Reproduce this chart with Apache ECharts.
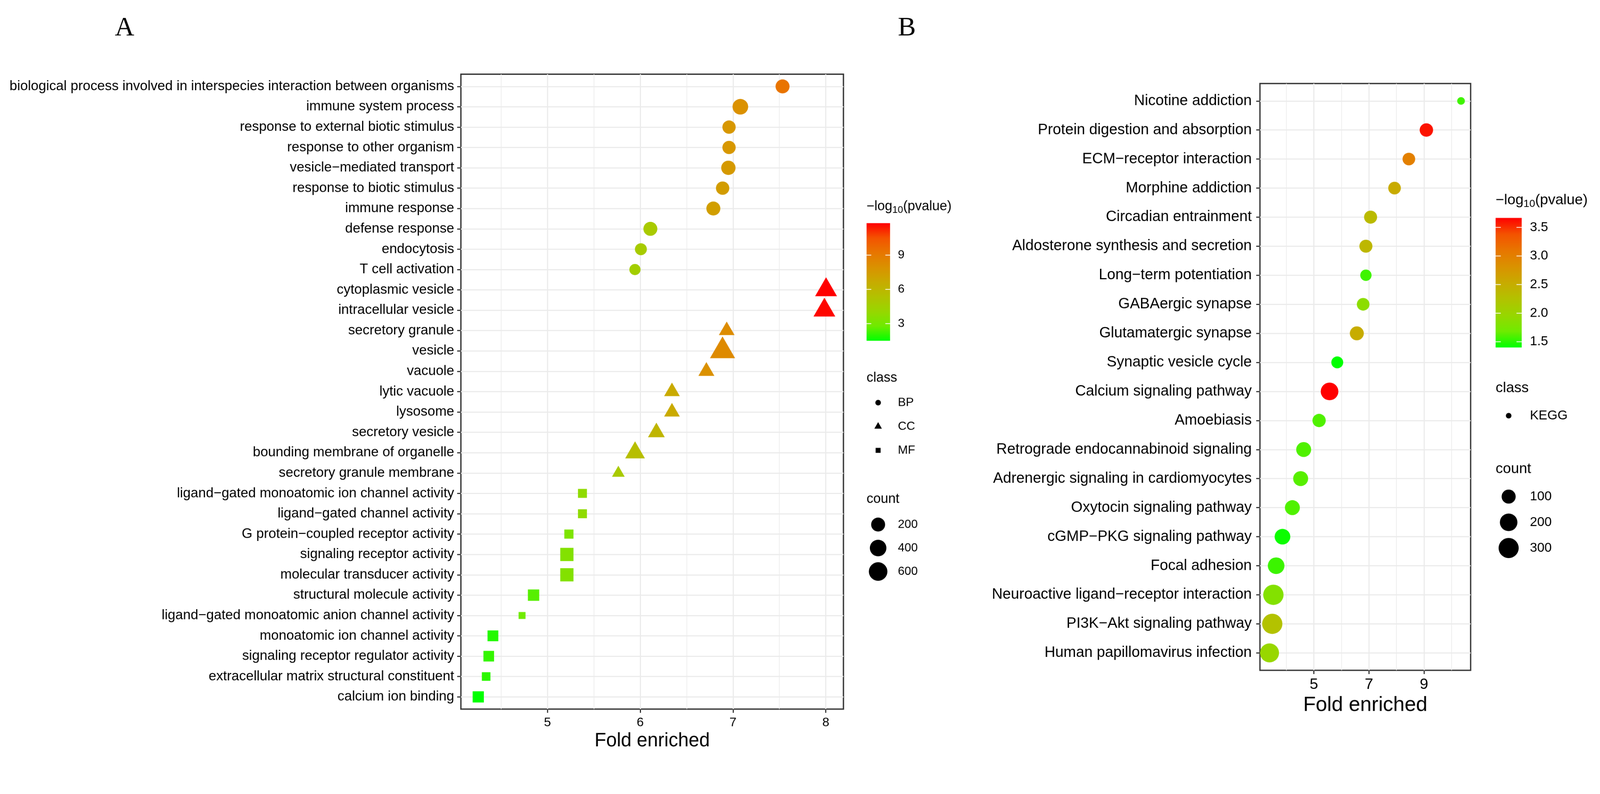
<!DOCTYPE html>
<html lang="en">
<head>
<meta charset="UTF-8">
<title>GO / KEGG enrichment</title>
<style>
  html, body { margin: 0; padding: 0; background: #fff; overflow: hidden; }
  #main { width: 4291px; height: 2033px; transform-origin: 0 0; }
</style>
</head>
<body>
<div id="main"></div>
<script src="https://cdn.jsdelivr.net/npm/echarts@6/dist/echarts.min.js"></script>
<script>
// ---------- panel A : GO terms ----------
var termsA = [
  'biological process involved in interspecies interaction between organisms',
  'immune system process', 'response to external biotic stimulus', 'response to other organism',
  'vesicle\u2212mediated transport', 'response to biotic stimulus', 'immune response',
  'defense response', 'endocytosis', 'T cell activation',
  'cytoplasmic vesicle', 'intracellular vesicle', 'secretory granule', 'vesicle', 'vacuole',
  'lytic vacuole', 'lysosome', 'secretory vesicle', 'bounding membrane of organelle',
  'secretory granule membrane',
  'ligand\u2212gated monoatomic ion channel activity', 'ligand\u2212gated channel activity',
  'G protein\u2212coupled receptor activity', 'signaling receptor activity',
  'molecular transducer activity', 'structural molecule activity',
  'ligand\u2212gated monoatomic anion channel activity', 'monoatomic ion channel activity',
  'signaling receptor regulator activity', 'extracellular matrix structural constituent',
  'calcium ion binding'
];
var classA = ['BP','BP','BP','BP','BP','BP','BP','BP','BP','BP',
              'CC','CC','CC','CC','CC','CC','CC','CC','CC','CC',
              'MF','MF','MF','MF','MF','MF','MF','MF','MF','MF','MF'];
var foldA  = [7.534, 7.079, 6.957, 6.957, 6.95, 6.888, 6.788, 6.109, 6.007, 5.943,
              8.003, 7.985, 6.932, 6.887, 6.713, 6.342, 6.342, 6.174, 5.944, 5.764,
              5.377, 5.377, 5.231, 5.209, 5.209, 4.85, 4.726, 4.412, 4.367, 4.339, 4.254];
var countA = [201, 322, 160, 160, 223, 165, 201, 201, 92, 63,
              372, 365, 80, 610, 90, 80, 80, 116, 246, 18,
              32, 32, 37, 267, 267, 134, 5, 103, 95, 23, 125];
var pvalA  = [9.3, 8.0, 7.7, 7.7, 7.6, 7.4, 7.3, 4.9, 4.8, 4.6,
              11.8, 11.7, 8.2, 8.3, 8.0, 6.7, 6.7, 6.1, 5.6, 4.9,
              3.8, 3.8, 3.25, 3.4, 3.4, 2.5, 2.8, 1.9, 2.1, 2.0, 1.5];

// ---------- panel B : KEGG pathways ----------
var termsB = [
  'Nicotine addiction', 'Protein digestion and absorption', 'ECM\u2212receptor interaction',
  'Morphine addiction', 'Circadian entrainment', 'Aldosterone synthesis and secretion',
  'Long\u2212term potentiation', 'GABAergic synapse', 'Glutamatergic synapse',
  'Synaptic vesicle cycle', 'Calcium signaling pathway', 'Amoebiasis',
  'Retrograde endocannabinoid signaling', 'Adrenergic signaling in cardiomyocytes',
  'Oxytocin signaling pathway', 'cGMP\u2212PKG signaling pathway', 'Focal adhesion',
  'Neuroactive ligand\u2212receptor interaction', 'PI3K\u2212Akt signaling pathway',
  'Human papillomavirus infection'
];
var foldB  = [10.345, 9.086, 8.45, 7.93, 7.06, 6.89, 6.89, 6.79, 6.56, 5.85,
              5.57, 5.19, 4.63, 4.52, 4.22, 3.86, 3.63, 3.53, 3.49, 3.39];
var countB = [29, 87, 72, 72, 79, 79, 52, 72, 98, 60,
              203, 84, 121, 121, 121, 141, 170, 310, 305, 255];
var pvalB  = [1.56, 3.60, 3.0, 2.53, 2.35, 2.38, 1.56, 1.88, 2.52, 1.40,
              3.665, 1.60, 1.60, 1.62, 1.60, 1.43, 1.55, 1.82, 2.25, 1.97];

// tick labels / legend breaks
var ticksA = [5, 6, 7, 8];
var minorA = [4.5, 5.5, 6.5, 7.5];
var ticksB = [5, 7, 9];
var minorB = [4, 6, 8, 10];
var barTicksA = [3, 6, 9];
var barTicksB = [1.5, 2.0, 2.5, 3.0, 3.5];
var countBreaksA = [200, 400, 600];
var countBreaksB = [100, 200, 300];

// green -> red ramp (sampled in Lab, like ggplot's gradient)
var ramp = ['#00FF00', '#70EB00', '#98D700', '#B3C200', '#C8AB00', '#DA9200', '#E87600', '#F45300', '#FF0000'];

var FONT = 'Liberation Sans, Arial, sans-serif';
var INK = '#000';

function ext(arr) { return [Math.min.apply(null, arr), Math.max.apply(null, arr)]; }
function expand(arr) { var e = ext(arr), d = (e[1] - e[0]) * 0.05; return [e[0] - d, e[1] + d]; }
function sizer(counts, dMin, dMax) {
  var e = ext(counts);
  return function (c) {
    var t = Math.max(0, (c - e[0]) / (e[1] - e[0]));
    return dMin + (dMax - dMin) * Math.sqrt(t);
  };
}
var sizeA = sizer(countA, 21, 50);
var sizeB = sizer(countB, 20.7, 54.5);

var idxA = termsA.map(function (t, i) { return i; });
var idxB = termsB.map(function (t, i) { return i; });
var xrA = expand(foldA), xrB = expand(foldB);
var prA = ext(pvalA), prB = ext(pvalB);

function rowsA(cls) {
  var out = [];
  termsA.forEach(function (t, i) {
    if (classA[i] === cls) out.push([foldA[i], i, countA[i], pvalA[i], t]);
  });
  return out;
}
var dataB = termsB.map(function (t, i) { return [foldB[i], i, countB[i], pvalB[i], t]; });

// axis helpers
function xMain(grid, range, ticks, fs, nameFs, nameGap, labMargin) {
  return {
    gridIndex: grid, type: 'value', min: range[0], max: range[1], position: 'bottom',
    axisLine: { show: false, onZero: false },
    axisTick: { show: true, customValues: ticks, length: 10, lineStyle: { color: '#333', width: 3 } },
    axisLabel: { customValues: ticks, margin: labMargin, fontSize: fs, color: INK, fontFamily: FONT },
    splitLine: { show: true, lineStyle: { color: '#EBEBEB', width: 3 } },
    name: 'Fold enriched', nameLocation: 'middle', nameGap: nameGap,
    nameTextStyle: { fontSize: nameFs, color: INK, fontFamily: FONT }
  };
}
function xMinor(grid, range, ticks) {
  return {
    gridIndex: grid, type: 'value', min: range[0], max: range[1], position: 'bottom',
    axisLine: { show: false, onZero: false },
    axisTick: { show: false, customValues: ticks },
    axisLabel: { show: false, customValues: ticks },
    splitLine: { show: true, lineStyle: { color: '#EDEDED', width: 1.8 } }
  };
}
function yCat(grid, terms, idx, fs, margin) {
  return {
    gridIndex: grid, type: 'value', inverse: true, min: -0.6, max: terms.length - 1 + 0.6,
    position: 'left',
    axisLine: { show: false, onZero: false },
    axisTick: { show: true, customValues: idx, length: 10, lineStyle: { color: '#333', width: 3 } },
    axisLabel: {
      customValues: idx, margin: margin, fontSize: fs, color: INK, fontFamily: FONT,
      formatter: function (v) { return terms[Math.round(v)]; }
    },
    splitLine: { show: true, lineStyle: { color: '#EBEBEB', width: 3 } }
  };
}

// ---------- legends (drawn as graphics) ----------
function gradientFill() {
  return new echarts.graphic.LinearGradient(0, 1, 0, 0, ramp.map(function (c, i) {
    return { offset: i / (ramp.length - 1), color: c };
  }));
}
function txt(x, y, s, fs, extra) {
  var st = { text: s, fontSize: fs, fontFamily: FONT, fill: INK, align: 'left', verticalAlign: 'middle' };
  if (extra) for (var k in extra) st[k] = extra[k];
  return { type: 'text', x: x, y: y, style: st, z: 10 };
}
function legend(o) {
  var els = [];
  // colour bar
  els.push(txt(o.x, o.titleY, '\u2212log{s|10}(pvalue)', o.titleFs, {
    rich: { s: { fontSize: Math.round(o.titleFs * 0.72), fontFamily: FONT, fill: INK, padding: [20, 0, 0, 0] } }
  }));
  els.push({ type: 'rect', shape: { x: o.x, y: o.barTop, width: o.barW, height: o.barH },
             style: { fill: gradientFill() }, z: 10 });
  o.barTicks.forEach(function (v) {
    var y = o.barTop + o.barH - (v - o.range[0]) / (o.range[1] - o.range[0]) * o.barH;
    var tl = o.barW * 0.2;
    els.push({ type: 'line', shape: { x1: o.x, y1: y, x2: o.x + tl, y2: y }, style: { stroke: '#fff', lineWidth: 2 }, z: 11 });
    els.push({ type: 'line', shape: { x1: o.x + o.barW - tl, y1: y, x2: o.x + o.barW, y2: y }, style: { stroke: '#fff', lineWidth: 2 }, z: 11 });
    els.push(txt(o.labelX, y, o.fmt(v), o.labelFs));
  });
  // shape legend
  els.push(txt(o.x, o.classY, 'class', o.titleFs));
  o.classes.forEach(function (c, i) {
    var y = o.classRows[i], cx = o.symX, d = 15;
    if (c === 'CC') {
      els.push({ type: 'polygon', shape: { points: [[cx, y - d * 0.78], [cx + d * 0.67, y + d * 0.39], [cx - d * 0.67, y + d * 0.39]] },
                 style: { fill: INK }, z: 10 });
    } else if (c === 'MF') {
      var s = d * 0.886;
      els.push({ type: 'rect', shape: { x: cx - s / 2, y: y - s / 2, width: s, height: s }, style: { fill: INK }, z: 10 });
    } else {
      els.push({ type: 'circle', shape: { cx: cx, cy: y, r: d / 2 }, style: { fill: INK }, z: 10 });
    }
    els.push(txt(o.labelX, y, c, o.labelFs));
  });
  // size legend
  els.push(txt(o.x, o.countY, 'count', o.titleFs));
  o.countBreaks.forEach(function (c, i) {
    var y = o.countRows[i];
    els.push({ type: 'circle', shape: { cx: o.symX, cy: y, r: o.size(c) / 2 }, style: { fill: INK }, z: 10 });
    els.push(txt(o.labelX, y, String(c), o.labelFs));
  });
  return els;
}

var graphics = [].concat(
  legend({
    x: 2324, titleY: 554, titleFs: 36, labelFs: 32, labelX: 2408,
    barTop: 598.5, barW: 63, barH: 315.5, range: prA, barTicks: barTicksA,
    fmt: function (v) { return String(v); },
    classY: 1014, classes: ['BP', 'CC', 'MF'], classRows: [1080, 1144, 1208], symX: 2355,
    countY: 1339, countBreaks: countBreaksA, countRows: [1407, 1470, 1533], size: sizeA
  }),
  legend({
    x: 4011, titleY: 537, titleFs: 39, labelFs: 35, labelX: 4103,
    barTop: 584.6, barW: 70, barH: 347.4, range: prB, barTicks: barTicksB,
    fmt: function (v) { return v.toFixed(1); },
    classY: 1041, classes: ['KEGG'], classRows: [1115], symX: 4046,
    countY: 1258, countBreaks: countBreaksB, countRows: [1332, 1401, 1470], size: sizeB
  }),
  [
    { type: 'text', x: 334, y: 76, style: { text: 'A', fontSize: 72, fontFamily: 'Liberation Serif, Times New Roman, serif', fill: INK, align: 'center', verticalAlign: 'middle' } },
    { type: 'text', x: 2432, y: 76, style: { text: 'B', fontSize: 72, fontFamily: 'Liberation Serif, Times New Roman, serif', fill: INK, align: 'center', verticalAlign: 'middle' } }
  ]
);

// the page is laid out in the 4291 x 2033 frame of the reference and fitted to the window
var el = document.getElementById('main');
var fit = Math.min(window.innerWidth / 4291, window.innerHeight / 2033);
if (fit > 0 && Math.abs(fit - 1) > 0.001) el.style.transform = 'scale(' + fit + ')';

var chart = echarts.init(el);
var option = {
  backgroundColor: '#fff',
  animation: false,
  textStyle: { fontFamily: FONT },
  grid: [
    { left: 1236, top: 199, width: 1026, height: 1703, show: true, borderColor: '#333', borderWidth: 3.5, backgroundColor: '#fff', containLabel: false },
    { left: 3379, top: 224, width: 565, height: 1574, show: true, borderColor: '#333', borderWidth: 3.5, backgroundColor: '#fff', containLabel: false }
  ],
  xAxis: [
    xMain(0, xrA, ticksA, 34, 51, 60, 20),
    xMinor(0, xrA, minorA),
    xMain(1, xrB, ticksB, 41, 55, 66, 18),
    xMinor(1, xrB, minorB)
  ],
  yAxis: [
    yCat(0, termsA, idxA, 36.8, 18),
    yCat(1, termsB, idxB, 40, 22)
  ],
  visualMap: [
    { type: 'continuous', show: false, seriesIndex: [0, 1, 2], dimension: 3, min: prA[0], max: prA[1], inRange: { color: ramp } },
    { type: 'continuous', show: false, seriesIndex: [3], dimension: 3, min: prB[0], max: prB[1], inRange: { color: ramp } }
  ],
  series: [
    { name: 'BP', type: 'scatter', xAxisIndex: 0, yAxisIndex: 0, data: rowsA('BP'), symbol: 'circle',
      symbolSize: function (v) { return sizeA(v[2]); }, itemStyle: { opacity: 1 }, z: 5 },
    { name: 'CC', type: 'scatter', xAxisIndex: 0, yAxisIndex: 0, data: rowsA('CC'), symbol: 'triangle',
      symbolSize: function (v) { var d = sizeA(v[2]); return [d * 1.347, d * 1.166]; },
      symbolOffset: [0, '-16.7%'], itemStyle: { opacity: 1 }, z: 5 },
    { name: 'MF', type: 'scatter', xAxisIndex: 0, yAxisIndex: 0, data: rowsA('MF'), symbol: 'rect',
      symbolSize: function (v) { var d = sizeA(v[2]) * 0.886; return [d, d]; }, itemStyle: { opacity: 1 }, z: 5 },
    { name: 'KEGG', type: 'scatter', xAxisIndex: 2, yAxisIndex: 1, data: dataB, symbol: 'circle',
      symbolSize: function (v) { return sizeB(v[2]); }, itemStyle: { opacity: 1 }, z: 5 }
  ],
  graphic: graphics
};
chart.setOption(option);
</script>
</body>
</html>
